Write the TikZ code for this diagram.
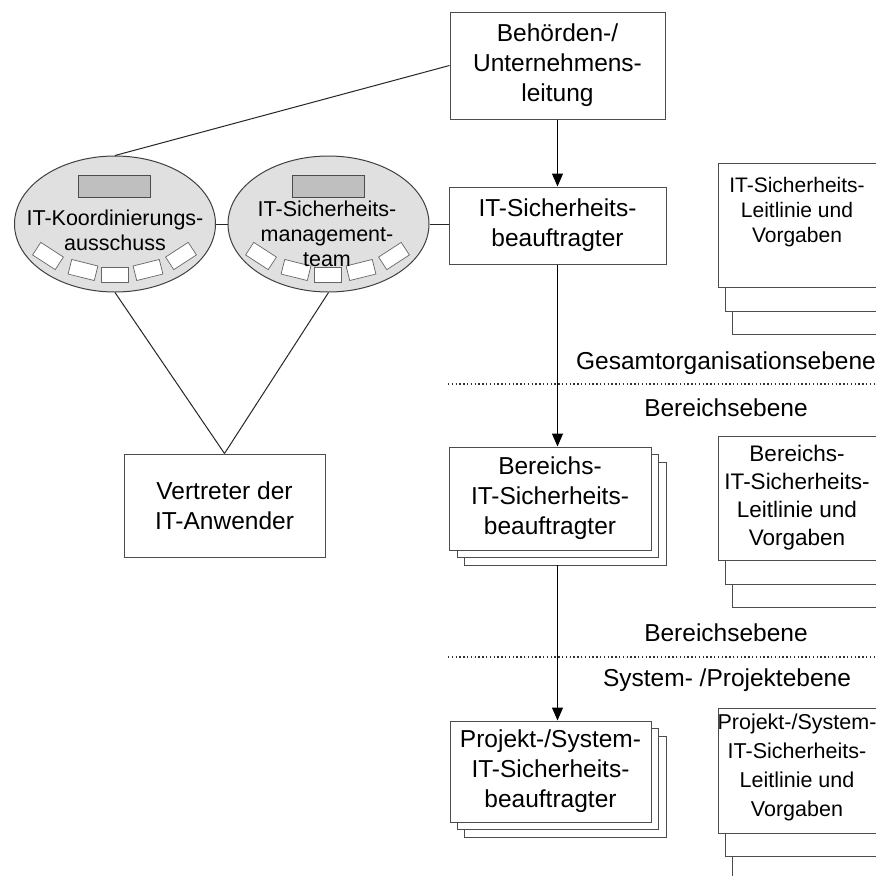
\documentclass[tikz,border=0pt]{standalone}
\usepackage{fontspec}
\setmainfont{Liberation Sans}
\usetikzlibrary{arrows.meta,shapes.geometric}
\begin{document}
\begin{tikzpicture}[x=1pt,y=-1pt,
  box/.style={draw=black!70, line width=1pt, fill=white, inner sep=0pt, align=center,
    font=\fontsize{24.5}{30}\selectfont},
  sheet/.style={draw=black!70, line width=1pt, fill=white},
  doctext/.style={align=center, inner sep=0pt, font=\fontsize{21.5}{27}\selectfont},
  grp/.style={ellipse, draw=black!75, line width=1pt, fill=black!12,
    minimum width=201pt, minimum height=136pt, inner sep=0pt},
  grptext/.style={align=center, inner sep=0pt, font=\fontsize{21.5}{25}\selectfont},
  chair/.style={draw=black!70, line width=0.8pt, fill=black!25, minimum width=72pt, minimum height=22pt, inner sep=0pt},
  seat/.style={draw=black!60, line width=0.7pt, fill=white, minimum width=27pt, minimum height=15pt, inner sep=0pt},
  conn/.style={draw=black!85, line width=1pt},
  arr/.style={draw=black, line width=1pt, -{Triangle[length=13pt,width=11pt]}},
  lvl/.style={draw=black!80, line width=1.3pt, dash pattern=on 1.4pt off 2.4pt},
  lvltext/.style={inner sep=0pt, font=\fontsize{24.5}{30}\selectfont}
]
\useasboundingbox (0,0) rectangle (876,876);
\clip (0,0) rectangle (876,876);
\fill[white] (0,0) rectangle (876,876);

% ---- main column ----
\node[box, minimum width=215pt, minimum height=107pt] (top) at (557.5,65.5)
  {Behörden-/\\Unternehmens-\\leitung};
\node[box, minimum width=217pt, minimum height=77pt] (itsb) at (557.5,225.5)
  {IT-Sicherheits-\\beauftragter};

% Bereichs stack
\draw[sheet] (464,462) rectangle (666,565);
\draw[sheet] (457,454) rectangle (658,557);
\coordinate (bstack) at (557.5,565);
\node[box, minimum width=202pt, minimum height=103pt] (bb) at (550,498.5)
  {Bereichs-\\IT-Sicherheits-\\beauftragter};

% Projekt stack
\draw[sheet] (464,736) rectangle (666,837);
\draw[sheet] (457,728) rectangle (658,829);
\node[box, minimum width=201pt, minimum height=101pt] (pb) at (550.5,771.5)
  {Projekt-/System-\\IT-Sicherheits-\\beauftragter};

% ---- documents ----
\draw[sheet] (732,177) rectangle (890,334);
\draw[sheet] (725,170) rectangle (890,311);
\draw[sheet] (718,163) rectangle (890,287);
\node[doctext, font=\fontsize{21}{25}\selectfont] (d1) at (797,212)
  {IT-Sicherheits-\\Leitlinie und\\Vorgaben};

\draw[sheet] (732,450) rectangle (890,607);
\draw[sheet] (725,443) rectangle (890,584);
\draw[sheet] (718,436) rectangle (890,560);
\node[doctext, font=\fontsize{22.5}{28}\selectfont] (d2) at (797,498)
  {Bereichs-\\IT-Sicherheits-\\Leitlinie und\\Vorgaben};

\draw[sheet] (732,722) rectangle (890,900);
\draw[sheet] (725,715) rectangle (890,856);
\draw[sheet] (718,708) rectangle (890,833);
\node[doctext, font=\fontsize{21.5}{29}\selectfont] (d3) at (797,767)
  {Projekt-/System-\\IT-Sicherheits-\\Leitlinie und\\Vorgaben};

% ---- levels ----
\node[lvltext] (l1) at (726,363) {Gesamtorganisationsebene};
\node[lvltext] (l2) at (726,408) {Bereichsebene};
\coordinate (s1a) at (448,384);
\coordinate (s1b) at (880,384);
\draw[lvl] (s1a) -- (s1b);
\node[lvltext] (l3) at (726,633) {Bereichsebene};
\node[lvltext] (l4) at (727,680) {System- /Projektebene};
\coordinate (s2a) at (448,657);
\coordinate (s2b) at (880,657);
\draw[lvl] (s2a) -- (s2b);

% ---- groups ----
\node[grp] (L) at (115,224) {};
\node[grp] (R) at (328.5,224) {};
\node[chair] (Lc) at (114,186) {};
\node[chair] (Rc) at (328,186) {};
\foreach \dx/\dy/\r [count=\i] in {-67/32/-33, -32/46/-14, 0/51/0, 33/46/14, 66/32/33}{
  \node[seat, rotate=\r] (Ls\i) at (115+\dx,224+\dy) {};
  \node[seat, rotate=\r] (Rs\i) at (328+\dx,224+\dy) {};
}
\node[grptext] (Lt) at (115,230) {IT-Koordinierungs-\\ausschuss};
\node[grptext] (Rt) at (327,234) {IT-Sicherheits-\\management-\\team};

\node[box, minimum width=201pt, minimum height=103pt] (V) at (224.5,505.5)
  {Vertreter der\\IT-Anwender};

% ---- connectors ----
\draw[conn] (top.west) -- (L.north);
\draw[conn] (L.east) -- (R.west);
\draw[conn] (R.east) -- (itsb.west |- R.east);
\draw[conn] (L.south) -- (V.north);
\draw[conn] (R.south) -- (V.north);
\draw[arr] (top.south) -- (itsb.north);
\draw[arr] (itsb.south) -- (itsb.south |- bb.north);
\draw[arr] (bstack) -- (bstack |- pb.north);
\end{tikzpicture}
\end{document}
